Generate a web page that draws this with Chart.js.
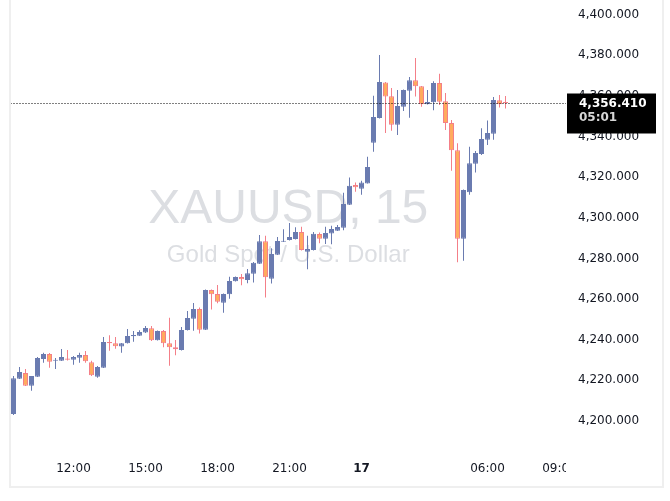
<!DOCTYPE html>
<html>
<head>
<meta charset="utf-8">
<script src="https://cdn.jsdelivr.net/npm/chart.js@4.4.1/dist/chart.umd.min.js"></script>
<style>
  html, body { margin: 0; padding: 0; background: #fff; }
  canvas { display: block; }
</style>
</head>
<body>
<canvas id="chart" width="670" height="501"></canvas>
<script>
// XAUUSD 15 min candles
const opens = [
  4203.4, 4220.8, 4223.6, 4217.4, 4221.8, 4230.5, 4233.0, 4229.7, 4229.7, 4230.8,
  4230.1, 4231.1, 4232.5, 4228.9, 4221.8, 4226.2, 4238.9, 4238.2, 4236.6, 4238.2,
  4241.7, 4241.9, 4243.5, 4245.6, 4239.7, 4244.3, 4238.2, 4236.3, 4234.9, 4244.8,
  4250.3, 4255.1, 4244.9, 4264.5, 4262.5, 4258.2, 4262.3, 4268.7, 4270.8, 4269.4,
  4272.5, 4277.4, 4288.4, 4270.0, 4281.8, 4288.2, 4289.0, 4289.5, 4293.0, 4283.3,
  4284.1, 4292.0, 4289.7, 4292.3, 4293.6, 4295.1, 4306.4, 4316.1, 4314.3, 4316.9,
  4336.9, 4349.1, 4366.6, 4359.8, 4345.8, 4354.6, 4362.5, 4367.6, 4364.7, 4355.8,
  4356.8, 4366.3, 4357.3, 4346.6, 4333.2, 4289.7, 4312.5, 4326.6, 4331.4, 4338.4,
  4341.3, 4357.8, 4356.6
];
const highs = [
  4222.1, 4226.6, 4225.6, 4222.1, 4231.5, 4233.6, 4233.5, 4231.0, 4235.4, 4234.9,
  4232.0, 4233.6, 4234.4, 4229.7, 4227.1, 4241.3, 4242.2, 4241.3, 4238.4, 4245.3,
  4244.3, 4244.6, 4246.7, 4246.7, 4244.5, 4244.8, 4250.8, 4239.9, 4246.3, 4254.1,
  4258.1, 4255.9, 4264.7, 4264.7, 4266.9, 4262.7, 4271.0, 4271.1, 4272.3, 4274.8,
  4278.2, 4291.5, 4291.2, 4285.0, 4290.5, 4294.3, 4297.4, 4295.3, 4295.6, 4291.2,
  4293.0, 4292.8, 4295.6, 4296.1, 4296.4, 4312.3, 4319.8, 4317.3, 4318.2, 4330.0,
  4360.0, 4380.1, 4366.8, 4363.8, 4362.9, 4363.1, 4369.2, 4378.6, 4364.8, 4362.9,
  4367.1, 4370.9, 4361.4, 4348.1, 4336.6, 4313.9, 4334.9, 4332.8, 4344.0, 4347.9,
  4359.4, 4360.4, 4359.9
];
const lows = [
  4202.9, 4220.7, 4217.2, 4214.9, 4221.6, 4228.7, 4226.2, 4225.6, 4229.5, 4229.8,
  4227.7, 4228.7, 4228.7, 4222.1, 4221.3, 4226.1, 4234.6, 4235.6, 4233.6, 4238.1,
  4239.0, 4241.8, 4243.3, 4239.4, 4239.6, 4236.3, 4227.2, 4232.3, 4234.7, 4244.5,
  4244.4, 4243.1, 4244.8, 4254.8, 4257.9, 4253.3, 4260.2, 4268.6, 4266.8, 4267.8,
  4268.2, 4277.2, 4260.7, 4267.6, 4281.7, 4288.1, 4288.8, 4289.3, 4283.9, 4274.6,
  4283.9, 4287.4, 4287.1, 4286.9, 4293.5, 4293.8, 4306.3, 4312.8, 4311.3, 4316.9,
  4332.5, 4348.8, 4341.7, 4342.8, 4340.7, 4352.5, 4349.2, 4359.6, 4354.6, 4355.7,
  4352.9, 4355.5, 4343.2, 4323.1, 4278.1, 4278.9, 4311.3, 4322.2, 4330.9, 4335.8,
  4338.4, 4354.2, 4353.7
];
const closes = [
  4221.0, 4224.1, 4217.4, 4222.1, 4231.0, 4233.0, 4229.2, 4230.0, 4231.5, 4230.1,
  4231.5, 4232.5, 4229.4, 4222.5, 4226.6, 4238.9, 4238.2, 4236.8, 4238.2, 4241.8,
  4242.3, 4243.8, 4245.8, 4239.7, 4244.3, 4238.2, 4236.3, 4235.3, 4244.8, 4250.7,
  4255.1, 4244.9, 4264.5, 4262.3, 4258.7, 4262.5, 4268.9, 4270.8, 4269.7, 4272.7,
  4277.9, 4288.4, 4270.7, 4282.2, 4288.6, 4288.6, 4290.5, 4293.0, 4284.1, 4284.6,
  4292.1, 4289.7, 4292.5, 4294.5, 4295.5, 4306.8, 4315.8, 4315.0, 4317.4, 4325.0,
  4349.6, 4366.8, 4359.6, 4345.8, 4355.0, 4362.9, 4367.6, 4364.7, 4355.8, 4356.9,
  4366.3, 4357.1, 4346.6, 4333.2, 4289.7, 4313.6, 4326.8, 4331.9, 4338.7, 4341.7,
  4357.9, 4355.8, 4356.41
];

// time axis labels (bar index -> text)
const tickPos = [10, 22, 34, 46, 58, 79, 91];
const tickText = ['12:00', '15:00', '18:00', '21:00', '17', '06:00', '09:00'];
// price scale labels
const priceTicks = [4200, 4220, 4240, 4260, 4280, 4300, 4320, 4340, 4360, 4380, 4400];

const lastPrice = 4356.410;
const countdown = '05:01';
const symbolTitle = 'XAUUSD, 15';
const symbolDesc = 'Gold Spot / U.S. Dollar';

const UP = '#6A7BB0';
const DOWN_FILL = '#FFAB5E';
const DOWN_LINE = '#F47F88';
const FONT = "'DejaVu Sans', sans-serif";
const WM_FONT = "'Liberation Sans', Arial, sans-serif";

const isUp = closes.map((c, i) => c >= opens[i]);
const bodies = opens.map((o, i) => ({ x: i, y: [o, closes[i]] }));
const wicks = lows.map((l, i) => ({ x: i, y: [l, highs[i]] }));

// no automatic label padding, the pane is placed by layout.padding only
const noPad = s => { s.paddingTop = 0; s.paddingBottom = 0; s.paddingLeft = 0; s.paddingRight = 0; };

const decor = {
    id: 'decor',
    beforeDatasetsDraw(chart) {
        // watermark behind the candles
        const { ctx, chartArea: a } = chart;
        const cx = (a.left + a.right) / 2;
        const cy = (a.top + a.bottom) / 2;
        ctx.save();
        ctx.fillStyle = 'rgba(178,181,190,0.45)';
        ctx.textAlign = 'center';
        ctx.textBaseline = 'alphabetic';
        ctx.font = '48px ' + WM_FONT;
        ctx.fillText(symbolTitle, cx, cy - 8.5);
        ctx.font = '24px ' + WM_FONT;
        ctx.fillText(symbolDesc, cx, cy + 30.5);
        ctx.restore();
    },
    afterDraw(chart) {
        const { ctx, chartArea: a } = chart;
        const y = Math.round(chart.scales.y.getPixelForValue(lastPrice)) + 0.5;
        ctx.save();

        // time label gets cut at the price scale
        ctx.fillStyle = '#fff';
        ctx.fillRect(a.right, a.bottom + 1, 95, 28);

        // last price dotted line
        ctx.strokeStyle = '#000';
        ctx.lineWidth = 1;
        ctx.setLineDash([1, 2]);
        ctx.beginPath();
        ctx.moveTo(a.left, y);
        ctx.lineTo(a.right, y);
        ctx.stroke();
        ctx.setLineDash([]);

        // price tag
        const bx = a.right + 1, by = y - 10;
        ctx.fillStyle = '#000';
        ctx.fillRect(bx, by, 89, 40);
        ctx.textAlign = 'left';
        ctx.textBaseline = 'middle';
        ctx.fillStyle = '#fff';
        ctx.font = 'bold 12px ' + FONT;
        ctx.fillText(lastPrice.toLocaleString('en-US', { minimumFractionDigits: 3 }), bx + 12, by + 10);
        ctx.fillStyle = '#d6d6d6';
        ctx.fillText(countdown, bx + 12, by + 24);

        // pane frame
        ctx.strokeStyle = '#efefef';
        ctx.lineWidth = 2;
        ctx.beginPath();
        ctx.moveTo(10, 0);
        ctx.lineTo(10, 487);
        ctx.lineTo(663, 487);
        ctx.lineTo(663, 0);
        ctx.stroke();
        ctx.restore();
    }
};

new Chart(document.getElementById('chart'), {
    type: 'bar',
    data: {
        datasets: [
            {
                data: bodies,
                barThickness: 5,
                backgroundColor: isUp.map(u => u ? UP : DOWN_FILL),
                borderColor: isUp.map(u => u ? UP : DOWN_LINE),
                borderWidth: 1,
                borderSkipped: false,
                minBarLength: 1,
                inflateAmount: 0,
                grouped: false
            },
            {
                data: wicks,
                barThickness: 1,
                backgroundColor: isUp.map(u => u ? UP : DOWN_LINE),
                borderWidth: 0,
                inflateAmount: 0,
                grouped: false
            }
        ]
    },
    options: {
        responsive: false,
        animation: false,
        devicePixelRatio: 1,
        layout: { padding: { left: 10.5, right: 0, top: 8, bottom: 0 } },
        plugins: { legend: { display: false }, tooltip: { enabled: false } },
        scales: {
            x: {
                type: 'linear',
                min: -0.5,
                max: 92.083,
                offset: false,
                grid: { display: false, drawTicks: false },
                border: { display: false },
                afterBuildTicks: s => { s.ticks = tickPos.map(v => ({ value: v })); },
                afterFit: s => { s.height = 46; noPad(s); },
                ticks: {
                    padding: 7,
                    color: '#131722',
                    maxRotation: 0,
                    autoSkip: false,
                    callback: v => tickText[tickPos.indexOf(v)],
                    font: c => ({
                        family: FONT,
                        size: 12,
                        weight: (c.tick && tickText[tickPos.indexOf(c.tick.value)] === '17') ? 'bold' : 'normal'
                    })
                }
            },
            y: {
                position: 'right',
                min: 4183.27,
                max: 4403.196,
                grid: { display: false, drawTicks: false },
                border: { display: false },
                afterBuildTicks: s => { s.ticks = priceTicks.map(v => ({ value: v })); },
                afterFit: s => { s.width = 104; noPad(s); },
                ticks: {
                    padding: 12,
                    color: '#131722',
                    font: { family: FONT, size: 12 },
                    callback: v => v.toLocaleString('en-US', { minimumFractionDigits: 3, maximumFractionDigits: 3 })
                }
            }
        }
    },
    plugins: [decor]
});
</script>
</body>
</html>
